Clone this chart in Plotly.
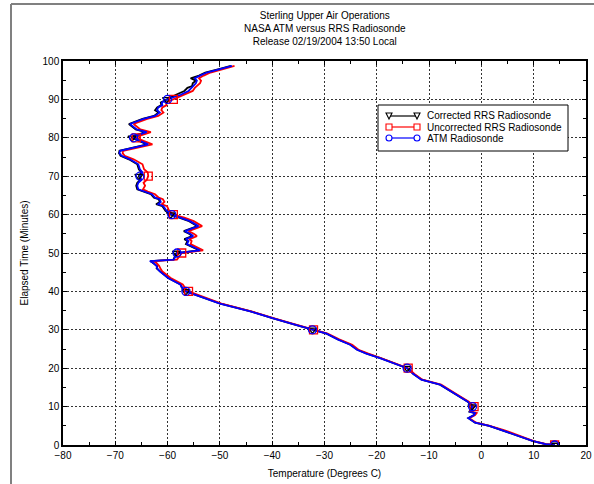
import plotly.graph_objects as go

# ---------------- data ----------------
TIME_MIN = [
    0.0, 0.2, 1.0, 2.5, 3.9, 5.0, 5.8, 7.0, 7.8, 8.3,
    8.7, 10.0, 11.3, 13.0, 14.5, 15.7, 17.0, 18.5, 20.0, 21.5,
    22.6, 23.8, 24.8, 26.1, 27.5, 29.0, 30.0, 31.5, 33.0, 34.8,
    36.8, 38.5, 40.0, 41.0, 41.8, 43.5, 45.2, 46.0, 46.6, 47.5,
    47.9, 48.3, 49.0, 50.0, 50.7, 51.5, 52.3, 53.1, 53.6, 54.4,
    55.0, 55.7, 57.0, 58.3, 59.2, 60.0, 61.0, 62.2, 62.7, 63.3,
    64.0, 64.4, 65.3, 66.0, 66.6, 67.5, 68.3, 69.0, 70.0, 71.0,
    71.8, 73.1, 74.4, 75.3, 76.0, 76.6, 77.5, 78.3, 79.2, 80.0,
    80.5, 81.5, 82.2, 83.6, 84.9, 85.7, 86.6, 87.2, 87.9, 88.5,
    89.2, 90.0, 90.5, 91.2, 92.2, 93.0, 93.5, 94.2, 94.9, 95.5,
    96.2, 97.0, 97.9, 98.7,
]

ATM_TEMP = [
    14.0, 12.3, 9.9, 6.8, 4.2, 1.5, -1.2, -2.5, -1.4, -1.2,
    -2.2, -1.7, -2.6, -4.7, -6.5, -7.9, -11.5, -13.0, -14.2, -17.0,
    -19.4, -22.0, -23.8, -25.1, -27.5, -29.6, -32.3, -36.0, -39.8, -44.2,
    -50.0, -53.5, -56.5, -57.2, -57.6, -59.9, -61.5, -62.0, -62.1, -62.8,
    -63.4, -58.8, -58.6, -58.2, -53.8, -55.0, -56.3, -56.0, -56.5, -55.1,
    -55.7, -56.7, -54.1, -55.7, -57.5, -59.2, -60.2, -60.8, -61.8, -61.3,
    -61.5, -62.4, -63.0, -64.5, -65.6, -65.8, -65.6, -65.0, -65.3, -64.8,
    -65.3, -65.6, -67.2, -68.8, -69.2, -69.1, -65.9, -63.7, -65.3, -66.5,
    -66.2, -64.0, -65.9, -67.2, -64.6, -62.4, -61.5, -62.0, -61.8, -61.0,
    -61.1, -60.0, -59.0, -57.5, -56.0, -55.5, -55.1, -54.6, -54.4, -54.8,
    -53.8, -52.5, -50.0, -47.7,
]

RRS_CORRECTED_TEMP = [
    14.0, 12.3, 9.9, 6.8, 4.2, 1.5, -1.2, -2.5, -1.4, -1.2,
    -2.3, -1.8, -2.6, -4.7, -6.4, -7.9, -11.4, -13.0, -14.2, -17.0,
    -19.3, -21.9, -23.7, -25.0, -27.4, -29.6, -32.3, -36.0, -39.8, -44.1,
    -49.9, -53.4, -56.5, -57.3, -57.5, -59.9, -61.4, -62.1, -62.0, -62.9,
    -63.3, -58.9, -58.7, -58.3, -54.0, -55.2, -56.5, -56.2, -56.8, -55.3,
    -55.9, -56.9, -54.3, -55.9, -57.7, -59.4, -60.4, -61.0, -62.2, -61.5,
    -61.7, -62.6, -63.2, -64.7, -65.8, -66.0, -65.8, -65.2, -65.5, -65.0,
    -65.5, -65.8, -67.4, -69.0, -69.3, -69.2, -66.1, -63.9, -65.5, -66.8,
    -66.4, -64.2, -66.1, -67.4, -64.8, -62.6, -61.7, -62.4, -62.0, -61.2,
    -61.3, -60.2, -59.3, -58.4, -56.8, -56.2, -55.3, -55.2, -54.6, -55.6,
    -54.0, -52.8, -50.2, -47.9,
]

RRS_UNCORRECTED_TEMP = [
    14.0, 12.4, 10.0, 6.9, 4.3, 1.6, -1.0, -2.3, -1.2, -0.9,
    -2.0, -1.4, -2.4, -4.5, -6.3, -7.7, -11.3, -12.8, -14.0, -16.8,
    -19.1, -21.6, -23.5, -24.7, -27.2, -29.4, -32.1, -35.8, -39.6, -44.0,
    -49.7, -53.1, -56.0, -56.7, -57.1, -59.4, -61.0, -61.4, -61.6, -62.2,
    -62.8, -58.2, -57.8, -57.3, -53.2, -54.3, -55.6, -55.4, -55.8, -54.4,
    -55.0, -56.0, -53.4, -55.0, -56.8, -58.9, -59.7, -60.1, -61.1, -60.6,
    -60.9, -61.7, -62.4, -63.8, -64.7, -64.3, -64.6, -64.0, -63.7, -63.8,
    -64.5, -64.8, -66.5, -68.2, -68.6, -68.5, -65.2, -62.9, -64.6, -66.0,
    -65.4, -63.2, -65.2, -66.5, -63.9, -61.8, -60.8, -61.2, -61.0, -60.2,
    -60.3, -58.9, -58.3, -56.8, -55.2, -54.8, -54.4, -53.8, -53.6, -54.0,
    -53.1, -51.8, -49.4, -47.2,
]

SERIES_NAMES = ["Corrected RRS Radiosonde", "Uncorrected RRS Radiosonde", "ATM Radiosonde"]
MARKER_TIMES = [0, 10, 20, 30, 40, 50, 60, 70, 80, 90]

TITLE_LINES = ["Sterling Upper Air Operations",
               "NASA ATM versus RRS Radiosonde",
               "Release 02/19/2004 13:50 Local"]
X_TITLE = "Temperature (Degrees C)"
Y_TITLE = "Elapsed Time (Minutes)"

# ---------------- layout geometry ----------------
W, H = 594, 484
L, R, T, B = 63, 586, 61, 445
FONT = "Liberation Sans, Arial, sans-serif"


def pxx(x):
    return (x - L) / (R - L)


def pxy(y):
    return (B - y) / (B - T)


styles = [
    dict(color="black", symbol="triangle-down-open", size=7),
    dict(color="#ff0000", symbol="square-open", size=8),
    dict(color="#0000ff", symbol="circle-open", size=8),
]
temps = [RRS_CORRECTED_TEMP, RRS_UNCORRECTED_TEMP, ATM_TEMP]

mark_idx = [i for i, t in enumerate(TIME_MIN) if t in MARKER_TIMES]

fig = go.Figure()
for name, tt, st in zip(SERIES_NAMES, temps, styles):
    fig.add_trace(go.Scatter(
        x=tt, y=TIME_MIN, mode="lines", name=name, showlegend=False,
        line=dict(color=st["color"], width=1.8),
    ))
for name, tt, st in zip(SERIES_NAMES, temps, styles):
    fig.add_trace(go.Scatter(
        x=[tt[i] for i in mark_idx], y=[TIME_MIN[i] for i in mark_idx],
        mode="markers", name=name, showlegend=False,
        marker=dict(color=st["color"], symbol=st["symbol"], size=st["size"],
                    line=dict(width=1.3, color=st["color"])),
    ))

axis_common = dict(
    showline=True, linecolor="black", linewidth=1.5, mirror="ticks",
    ticks="inside", ticklen=4, tickcolor="black", tickwidth=1,
    showgrid=True, gridcolor="#333333", gridwidth=1, griddash="2px,2px",
    zeroline=False, automargin=False,
    tickfont=dict(family=FONT, size=10, color="black"),
    minor=dict(ticks="inside", ticklen=3, dtick=5, tickcolor="black", showgrid=False),
)

fig.update_xaxes(range=[-80, 20], dtick=10, tick0=-80,
                 title=dict(text=X_TITLE, font=dict(family=FONT, size=10, color="black"), standoff=10),
                 **axis_common)
fig.update_yaxes(range=[0, 100], dtick=10, tick0=0,
                 title=dict(text=Y_TITLE, font=dict(family=FONT, size=10, color="black"), standoff=12),
                 **axis_common)

shapes = []
annotations = []

# outer frame (top and left edges visible)
shapes.append(dict(type="line", xref="paper", yref="paper",
                   x0=pxx(11), y0=pxy(4), x1=pxx(W + 5), y1=pxy(4),
                   line=dict(color="#808080", width=2)))
shapes.append(dict(type="line", xref="paper", yref="paper",
                   x0=pxx(11), y0=pxy(4), x1=pxx(11), y1=pxy(H + 5),
                   line=dict(color="#808080", width=2)))

# title (three centred lines)
annotations.append(dict(xref="paper", yref="paper", x=0.5, y=pxy(28),
                        xanchor="center", yanchor="middle", showarrow=False,
                        text="<br>".join(TITLE_LINES),
                        font=dict(family=FONT, size=10, color="black")))

# custom legend
shapes.append(dict(type="rect", xref="paper", yref="paper",
                   x0=pxx(378), y0=pxy(151), x1=pxx(568), y1=pxy(105),
                   line=dict(color="black", width=1), fillcolor="white", layer="above"))
rows = [116, 127, 138]
lx0, lx1 = 389, 417
for row, name, st in zip(rows, SERIES_NAMES, styles):
    c = st["color"]
    shapes.append(dict(type="line", xref="paper", yref="paper",
                       x0=pxx(lx0), y0=pxy(row), x1=pxx(lx1), y1=pxy(row),
                       line=dict(color=c, width=1.2), layer="above"))
    for cx in (lx0, lx1):
        s = 3
        if st["symbol"].startswith("triangle"):
            path = (f"M {pxx(cx - s)} {pxy(row - s)} L {pxx(cx + s)} {pxy(row - s)} "
                    f"L {pxx(cx)} {pxy(row + s)} Z")
            shapes.append(dict(type="path", xref="paper", yref="paper", path=path,
                               line=dict(color=c, width=1.1), fillcolor="white", layer="above"))
        elif st["symbol"].startswith("square"):
            shapes.append(dict(type="rect", xref="paper", yref="paper",
                               x0=pxx(cx - s), y0=pxy(row + s), x1=pxx(cx + s), y1=pxy(row - s),
                               line=dict(color=c, width=1.1), fillcolor="white", layer="above"))
        else:
            shapes.append(dict(type="circle", xref="paper", yref="paper",
                               x0=pxx(cx - s), y0=pxy(row + s), x1=pxx(cx + s), y1=pxy(row - s),
                               line=dict(color=c, width=1.1), fillcolor="white", layer="above"))
    annotations.append(dict(xref="paper", yref="paper", x=pxx(425), y=pxy(row),
                            xanchor="left", yanchor="middle", showarrow=False, text=name,
                            font=dict(family=FONT, size=10, color="black")))

fig.update_layout(
    width=W, height=H,
    margin=dict(l=L, r=W - R, t=T, b=H - B, pad=0),
    paper_bgcolor="white", plot_bgcolor="white",
    shapes=shapes, annotations=annotations,
    showlegend=False,
)

fig.write_html("out.html")
